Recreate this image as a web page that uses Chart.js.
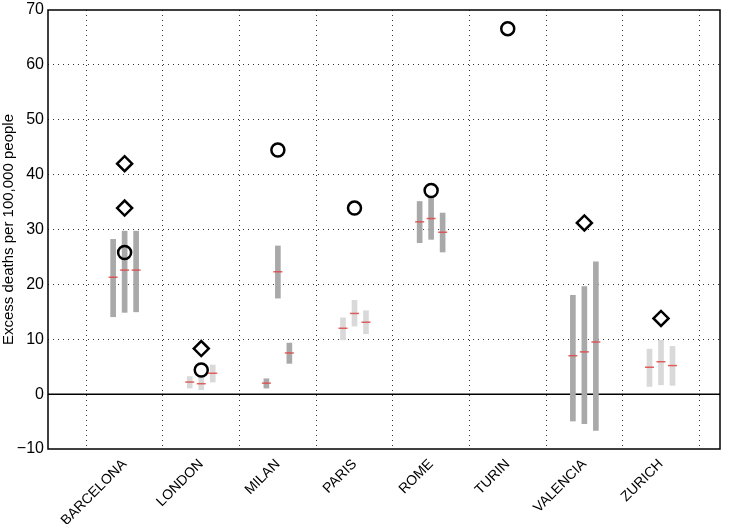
<!DOCTYPE html>
<html>
<head>
<meta charset="utf-8">
<title>Excess deaths</title>
<script src="https://cdn.jsdelivr.net/npm/chart.js"></script>
<style>
  html, body { margin: 0; padding: 0; background: #fff; }
  #wrap { width: 739px; height: 524px; }
</style>
</head>
<body>
<div id="wrap"><canvas id="myChart"></canvas></div>
<script>
// categories
const cities = ['BARCELONA', 'LONDON', 'MILAN', 'PARIS', 'ROME', 'TURIN', 'VALENCIA', 'ZURICH'];

// range bars: left / centre / right per city (null = no bar)
const leftLow  = [14.1, 1.1, 1.1,  9.9, 27.6, null, -4.9, 1.4];
const leftHigh = [28.2, 3.2, 2.8, 13.9, 35.1, null, 18.0, 8.2];
const leftMed  = [21.3, 2.2, 2.0, 12.0, 31.4, null,  7.0, 4.9];

const midLow  = [14.9, 0.8, 17.5, 12.4, 28.2, null, -5.4, 1.7];
const midHigh = [29.7, 3.3, 27.0, 17.1, 35.8, null, 19.6, 9.8];
const midMed  = [22.6, 1.9, 22.3, 14.7, 32.0, null,  7.7, 5.9];

const rightLow  = [15.0, 2.2, 5.6, 11.0, 25.9, null, -6.6, 1.6];
const rightHigh = [29.7, 5.3, 9.3, 15.2, 33.0, null, 24.1, 8.7];
const rightMed  = [22.6, 3.8, 7.5, 13.1, 29.5, null,  9.5, 5.2];

// dark or light shading of each city's bars
const shade = ['dark', 'light', 'dark', 'light', 'dark', 'dark', 'dark', 'light'];

// open circle markers
const circleVals = [25.8, 4.4, 44.5, 33.9, 37.1, 66.6, null, null];

// open diamond markers (city index, value)
const diamondCity = [0, 0, 1, 6, 7];
const diamondVals = [42.0, 33.9, 8.3, 31.2, 13.8];

const yTicks = [-10, 0, 10, 20, 30, 40, 50, 60, 70];

const shift = 0.15;
const xMax = 8.77;
const colors = { dark: '#a9a9a9', light: '#d9d9d9' };
const font = '"Liberation Sans", Arial, sans-serif';

function barData(low, high, off) {
  let out = [];
  cities.forEach(function(c, i) {
    if (low[i] !== null) out.push({ x: i + 1 + off, y: [low[i], high[i]], s: shade[i] });
  });
  return out;
}
function medData(med, off) {
  let out = [];
  cities.forEach(function(c, i) {
    if (med[i] !== null) out.push({ x: i + 1 + off, y: med[i] });
  });
  return out;
}
function barSet(low, high, off) {
  let d = barData(low, high, off);
  return {
    type: 'bar', data: d, order: 3, grouped: false, barThickness: 5,
    backgroundColor: d.map(p => colors[p.s]), borderWidth: 0
  };
}
function medSet(med, off) {
  return {
    type: 'line', data: medData(med, off), order: 2, showLine: false,
    pointStyle: 'line', pointRadius: 4.5, borderWidth: 1.5,
    borderColor: 'rgba(225,70,70,0.85)', pointBorderColor: 'rgba(225,70,70,0.85)'
  };
}

let circlePts = [];
circleVals.forEach(function(v, i) { if (v !== null) circlePts.push({ x: i + 1, y: v }); });
let diamondPts = diamondCity.map((c, k) => ({ x: c + 1, y: diamondVals[k] }));

const frame = {
  id: 'frame',
  afterDraw(chart) {
    const a = chart.chartArea, ctx = chart.ctx;
    ctx.save();
    ctx.strokeStyle = '#000';
    ctx.lineWidth = 1.5;
    ctx.strokeRect(a.left, a.top, a.right - a.left, a.bottom - a.top);
    ctx.restore();
  }
};

const ctx = document.getElementById('myChart').getContext('2d');
new Chart(ctx, {
  type: 'bar',
  data: {
    datasets: [
      {
        type: 'line', data: [{ x: 0, y: 0 }, { x: xMax, y: 0 }], order: 4,
        borderColor: '#000', borderWidth: 1.5, pointRadius: 0
      },
      barSet(leftLow, leftHigh, -shift),
      barSet(midLow, midHigh, 0),
      barSet(rightLow, rightHigh, shift),
      medSet(leftMed, -shift),
      medSet(midMed, 0),
      medSet(rightMed, shift),
      {
        type: 'line', data: circlePts, order: 1, showLine: false,
        pointStyle: 'circle', pointRadius: 6.5, pointBorderWidth: 2.5,
        pointBorderColor: '#000', pointBackgroundColor: 'rgba(0,0,0,0)'
      },
      {
        type: 'line', data: diamondPts, order: 1, showLine: false,
        pointStyle: 'rectRot', pointRadius: 7.5, pointBorderWidth: 2.5,
        pointBorderColor: '#000', pointBackgroundColor: 'rgba(0,0,0,0)'
      }
    ]
  },
  options: {
    responsive: true,
    maintainAspectRatio: false,
    animation: false,
    events: [],
    layout: { padding: { top: 6, right: 19, left: 0, bottom: 0 } },
    plugins: { legend: { display: false }, tooltip: { enabled: false } },
    scales: {
      x: {
        type: 'linear', min: 0, max: xMax, offset: false, z: 1,
        afterBuildTicks: function(scale) {
          scale.ticks = cities.map((c, i) => ({ value: i + 1 }));
        },
        afterFit: function(scale) {
          scale.height = 75;
          scale.paddingLeft = 0; scale.paddingRight = 0;
        },
        grid: { color: '#333', lineWidth: 1, drawTicks: false },
        border: { display: false, dash: [1, 4] },
        ticks: {
          autoSkip: false, maxRotation: 45, minRotation: 45, padding: 7,
          color: '#000', font: { family: font, size: 14 },
          callback: function(v) { return cities[Math.round(v) - 1]; }
        }
      },
      y: {
        min: -10, max: 70, z: 1,
        afterBuildTicks: function(scale) {
          scale.ticks = yTicks.map(v => ({ value: v }));
        },
        afterFit: function(scale) {
          scale.width = 48;
          // let the top label hang over the frame like the original
          scale.getPadding = function() { return { left: 0, top: 0, right: 0, bottom: 0 }; };
        },
        grid: {
          color: function(c) { return (c.tick && (c.tick.value === -10 || c.tick.value === 70 || c.tick.value === 0)) ? 'rgba(0,0,0,0)' : '#333'; },
          lineWidth: 1, drawTicks: false
        },
        border: { display: false, dash: [1, 4] },
        title: {
          display: true, text: 'Excess deaths per 100,000 people', color: '#000',
          font: { family: font, size: 15 }, padding: { top: 0, bottom: 1 }
        },
        ticks: {
          padding: 4, color: '#000',
          font: { family: font, size: 16 },
          callback: function(v) { return v < 0 ? '\u2212' + Math.abs(v) : v; }
        }
      }
    }
  },
  plugins: [frame]
});
</script>
</body>
</html>
